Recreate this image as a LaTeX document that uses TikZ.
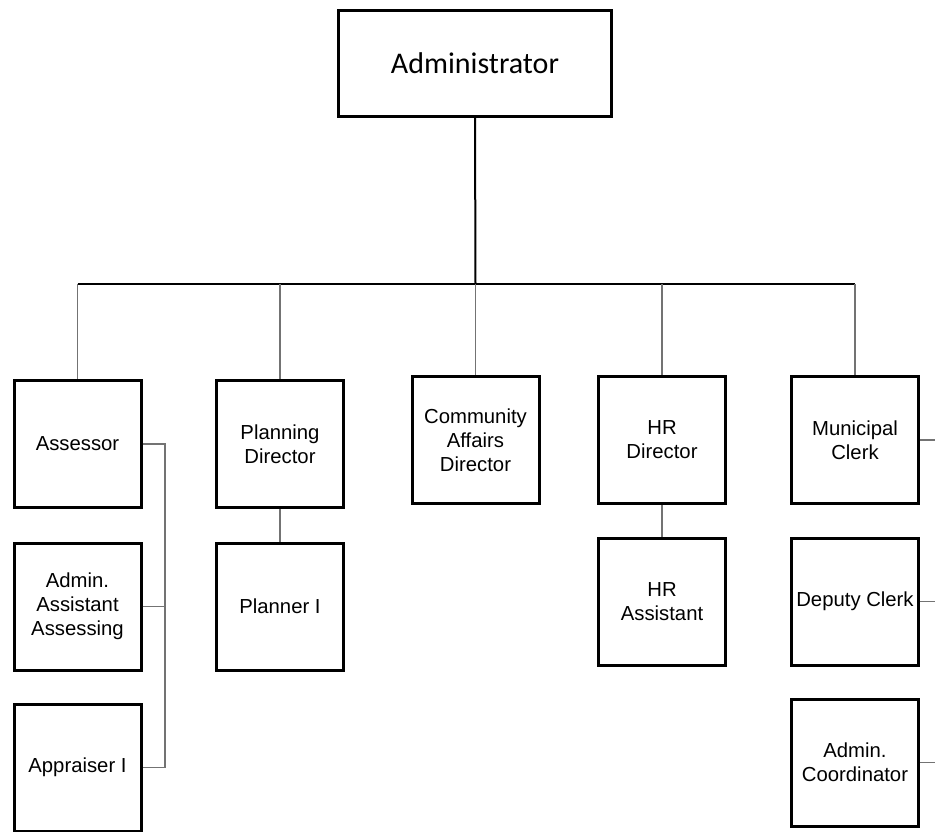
\documentclass[tikz,border=0pt]{standalone}
\usepackage{fontspec}
\setmainfont{Liberation Sans}
\newfontfamily\calibfont{Carlito}
\begin{document}
\begin{tikzpicture}[x=1pt,y=-1pt,
  box/.style={draw=black,line width=3pt,minimum width=127pt,minimum height=127pt,inner sep=2pt,align=center,font=\fontsize{20.3}{24}\selectfont},
  topbox/.style={draw=black,line width=3pt,minimum width=273pt,minimum height=106pt,inner sep=2pt,font=\calibfont\fontsize{30}{36}\selectfont},
  bus/.style={line width=2pt,black},
  drop/.style={line width=1.5pt,black!55}]
\useasboundingbox (0,0) rectangle (935,831);
\clip (0,0) rectangle (935,831);
\fill[white] (0,0) rectangle (935,831);
\node[topbox] (adm) at (475,63.5) {Administrator};
\node[box] (ass) at (77.5,444) {Assessor};
\node[box] (aaa) at (77.5,606.5) {Admin.\\Assistant\\Assessing};
\node[box] (app) at (77.5,767.5) {Appraiser I};
\node[box] (pla) at (280,444) {Planning\\Director};
\node[box] (pl1) at (280,606.5) {Planner I};
\node[box] (com) at (475.5,440) {Community\\Affairs\\Director};
\node[box] (hrd) at (662,440) {HR\\Director};
\node[box] (hra) at (662,601.5) {HR\\Assistant};
\node[box] (mun) at (855,440) {Municipal\\Clerk};
\node[box] (dep) at (855,601.5) {Deputy Clerk};
\node[box] (coo) at (855,762.5) {Admin.\\Coordinator};
\coordinate (bj) at (475.5,284);
\coordinate (asx) at (165,0);
\coordinate (rx) at (936,0);
% main bus
\draw[bus] (adm.south) -- (bj);
\draw[bus] (ass.north |- bj) -- (mun.north |- bj);
\foreach \n in {ass,pla,com,hrd,mun}
  \draw[drop] (\n.north |- bj) -- (\n.north);
% assessor group
\draw[drop] (ass.east) -- (ass.east -| asx) |- (app.east);
\draw[drop] (aaa.east) -- (aaa.east -| asx);
% planning & HR
\draw[drop] (pla) -- (pl1);
\draw[drop] (hrd) -- (hra);
% clerk group
\draw[drop] (mun.east) -- (mun.east -| rx);
\draw[drop] (dep.east) -- (dep.east -| rx);
\draw[drop] (coo.east) -- (coo.east -| rx);
\end{tikzpicture}
\end{document}
